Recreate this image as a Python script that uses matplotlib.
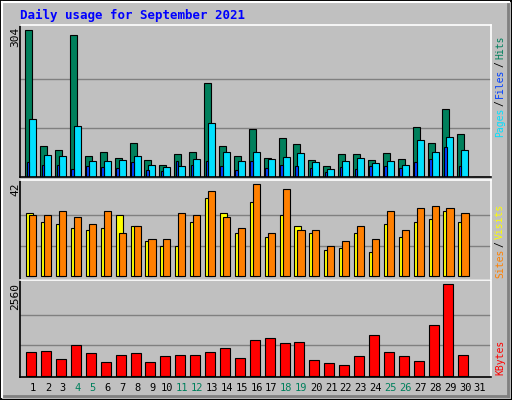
import numpy as np
import matplotlib.pyplot as plt
from matplotlib.patches import Rectangle

# ---- data ----
days = list(range(1, 32))
hits = [304, 63, 56, 292, 43, 52, 40, 71, 36, 25, 48, 52, 193, 63, 43, 100,
        40, 81, 69, 36, 23, 48, 48, 36, 50, 38, 104, 71, 141, 89, 0]
files = [120, 46, 44, 106, 34, 34, 36, 44, 25, 21, 23, 38, 112, 52, 34, 52,
         38, 42, 50, 30, 17, 32, 40, 28, 32, 25, 77, 52, 83, 56, 0]
pages = [30, 25, 25, 17, 23, 21, 19, 30, 15, 13, 32, 25, 32, 23, 15, 32,
         19, 25, 23, 19, 11, 21, 17, 23, 23, 19, 30, 38, 61, 23, 0]
visits = [29, 25, 24, 22, 21, 22, 28, 23, 16, 14, 14, 25, 36, 29, 20, 34,
          18, 28, 23, 20, 12, 13, 20, 11, 24, 18, 25, 26, 30, 25, 0]
sites = [28, 28, 30, 27, 24, 30, 20, 23, 17, 17, 29, 28, 39, 27, 22, 42,
         20, 40, 21, 21, 14, 16, 23, 17, 30, 21, 31, 32, 31, 29, 0]
kbytes = [654, 682, 458, 850, 626, 374, 570, 626, 374, 542, 570, 570, 654, 766,
          486, 990, 1046, 906, 934, 430, 346, 290, 542, 1130, 654, 542, 402,
          1410, 2560, 570, 0]
weekends = [4, 5, 11, 12, 18, 19, 25, 26]

BG = '#C0C0C0'
MONO = 'DejaVu Sans Mono'
W, H = 512, 400

fig = plt.figure(figsize=(W / 100, H / 100), dpi=100)
fig.patch.set_facecolor(BG)

# outer frame with bevel
bg = fig.add_axes([0, 0, 1, 1])
bg.set_xlim(0, W)
bg.set_ylim(H, 0)
bg.axis('off')
bg.add_patch(Rectangle((0.5, 0.5), W - 1, H - 1, fill=False, ec='black', lw=1.5))
bg.plot([2, W - 3], [2, 2], color='white', lw=1.5)
bg.plot([2, 2], [2, H - 3], color='white', lw=1.5)
bg.plot([W - 4, W - 4], [4, H - 4], color='#808080', lw=2)
bg.plot([4, W - 4], [H - 4, H - 4], color='#808080', lw=2)

bg.text(20, 15, 'Daily usage for September 2021', color='#0000FF', family=MONO,
        fontsize=9, fontweight='bold', va='center', ha='left')


def panel(top, bottom, ylim, grids):
    ax = fig.add_axes([20 / W, 1 - bottom / H, 471 / W, (bottom - top) / H])
    ax.set_facecolor(BG)
    ax.set_xlim(0.13, 31.74)
    ax.set_ylim(*ylim)
    for g in grids:
        ax.axhline(g, color='#808080', lw=1, zorder=0)
    ax.set_xticks([])
    ax.set_yticks([])
    for s in ['left', 'bottom']:
        ax.spines[s].set_color('black')
    for s in ['top', 'right']:
        ax.spines[s].set_color('white')
    for s in ax.spines.values():
        s.set_linewidth(1.2)
    return ax


x = np.array(days)
ekw = dict(edgecolor='black', linewidth=0.8, align='edge')

ax1 = panel(25, 177, (0, 313.5), [101, 203])
ax1.bar(x - 0.52, hits, width=0.47, color='#00805C', **ekw)
ax1.bar(x - 0.25, files, width=0.47, color='#00E0FF', **ekw)
ax1.bar(x - 0.42, pages, width=0.18, color='#0040FF', **ekw)

ax2 = panel(180, 280, (-1.7, 44), [14, 28])
ax2.bar(x[:30] - 0.45, visits[:30], width=0.47, color='#FFFF00', **ekw)
ax2.bar(x[:30] - 0.25, sites[:30], width=0.48, color='#FF8000', **ekw)

ax3 = panel(280, 377, (-36, 2680), [853, 1707])
ax3.bar(x[:30] - 0.45, kbytes[:30], width=0.67, color='#FF0000', **ekw)

# left max labels
for txt, y in [('304', 25), ('42', 181), ('2560', 281)]:
    bg.text(15, y + 2, txt, rotation=90, family=MONO, fontsize=8,
            ha='center', va='top', color='black')


# right legend labels (bottom-to-top)
def vlabel(parts, ybottom, fs=7):
    y = ybottom
    cw = fs / 72 * 100 * 0.602
    for t, c in parts:
        bg.text(500, y, t, rotation=90, family=MONO, fontsize=fs, color=c,
                ha='center', va='bottom')
        y -= len(t) * cw + 2


vlabel([('Pages', '#00E0FF'), ('/', '#000000'), ('Files', '#0040FF'),
        ('/', '#000000'), ('Hits', '#00805C')], 137)
vlabel([('Sites', '#FF8000'), ('/', '#000000'), ('Visits', '#FFFF00')], 278)
vlabel([('KBytes', '#FF0000')], 375)

# day labels
for d in days:
    px = 33 + (d - 1) * 14.9
    bg.text(px, 388, str(d), family=MONO, fontsize=7.5, ha='center', va='center',
            color='#00805C' if d in weekends else 'black')

fig.savefig('out.png', dpi=100, facecolor=BG)
